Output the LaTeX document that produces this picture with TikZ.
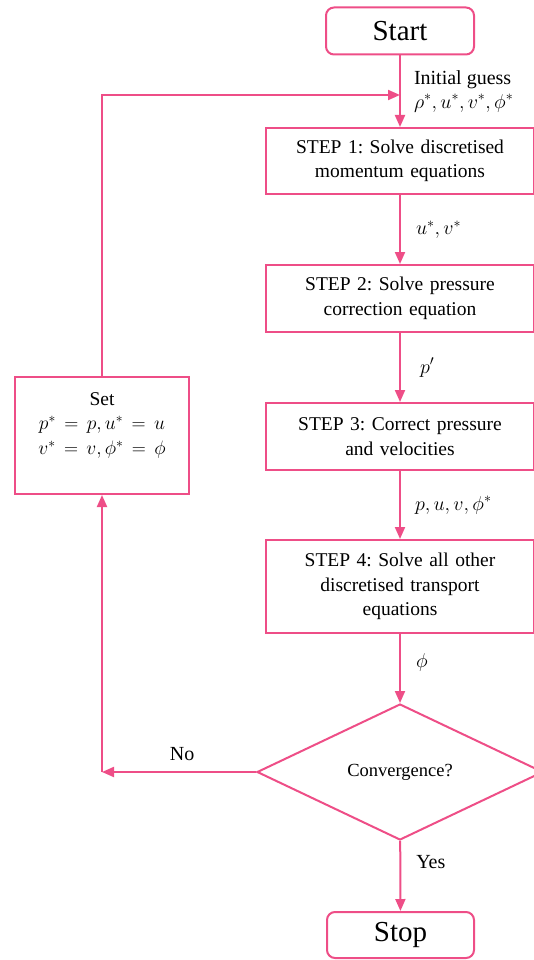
\RequirePackage{fix-cm}
\documentclass[tikz,border=0pt]{standalone}
\usepackage{fontspec}
\setmainfont{Liberation Serif}
\usepackage{tikz}
\usetikzlibrary{positioning, shapes.geometric, arrows.meta}

\definecolor{flowpink}{RGB}{238,78,135}
\frenchspacing

\tikzset{
  termbox/.style={draw=flowpink, line width=2pt, rounded corners=8pt, minimum width=148pt, minimum height=47pt, inner sep=0pt, font=\fontsize{29}{32}\selectfont},
  stepbox/.style={draw=flowpink, line width=2pt, minimum width=268pt, text width=255pt, inner sep=0pt, align=center, font=\fontsize{19.5}{24.5}\selectfont},
  decbox/.style={draw=flowpink, line width=2pt, shape=diamond, aspect=2.1, minimum width=286pt, minimum height=136pt, inner sep=0pt, font=\fontsize{18.5}{22}\selectfont},
  flow/.style={draw=flowpink, line width=2pt, -{Triangle[length=12pt, width=10pt]}},
  lbl/.style={font=\fontsize{20}{24}\selectfont, inner sep=0pt}
}

\begin{document}
\begin{tikzpicture}[x=1pt, y=-1pt]
\useasboundingbox (0,0) rectangle (534,960);

% main column
\node[termbox] (start) at (400,31) {Start};
\node[stepbox, minimum height=66pt] (step1) at (400,161) {STEP 1: Solve discretised\\ momentum equations};
\node[stepbox, minimum height=67pt] (step2) at (400,298.5) {STEP 2: Solve pressure\\ correction equation};
\node[stepbox, minimum height=67pt] (step3) at (400,436.5) {STEP 3: Correct pressure\\ and velocities};
\node[stepbox, minimum height=93pt] (step4) at (400,586.5) {STEP 4: Solve all other\\ discretised transport\\ equations};
\node[decbox] (conv) at (400,772) {Convergence?};
\node[termbox, minimum width=147pt, minimum height=46pt] (stop) at (400.5,935) {Stop};

% loop back
\node[stepbox, minimum width=174pt, text width=170pt, minimum height=117pt] (set) at (102,435.5)
  {Set\\ $p^* = p, u^* = u$\\ $v^* = v, \phi^* = \phi$\\ \phantom{x}};

\coordinate (join) at (start.south |- 0,95);
\coordinate (turn) at (set.south |- conv.west);

\draw[flow] (start) -- node[lbl, right=13pt, align=left] (guess) {Initial guess\\ $\rho^*, u^*, v^*, \phi^*$} (step1);
\draw[flow] (step1) -- node[lbl, right=15pt] (uvlbl) {$u^*, v^*$} (step2);
\draw[flow] (step2) -- node[lbl, right=19pt] (plbl) {$p'$} (step3);
\draw[flow] (step3) -- node[lbl, right=14pt] (puvlbl) {$p, u, v, \phi^*$} (step4);
\draw[flow] (step4) -- node[lbl, right=15pt, pos=0.42] (philbl) {$\phi$} (conv);
\draw[flow] (conv) -- node[lbl, right=15pt, pos=0.3] (yeslbl) {Yes} (stop);

\draw[flow] (conv.west) -- node[lbl, above=10pt, pos=0.48] (nolbl) {No} (turn);
\draw[flow] (turn) -- (set.south);
\draw[flow] (set.north) |- (join);
\end{tikzpicture}
\end{document}
